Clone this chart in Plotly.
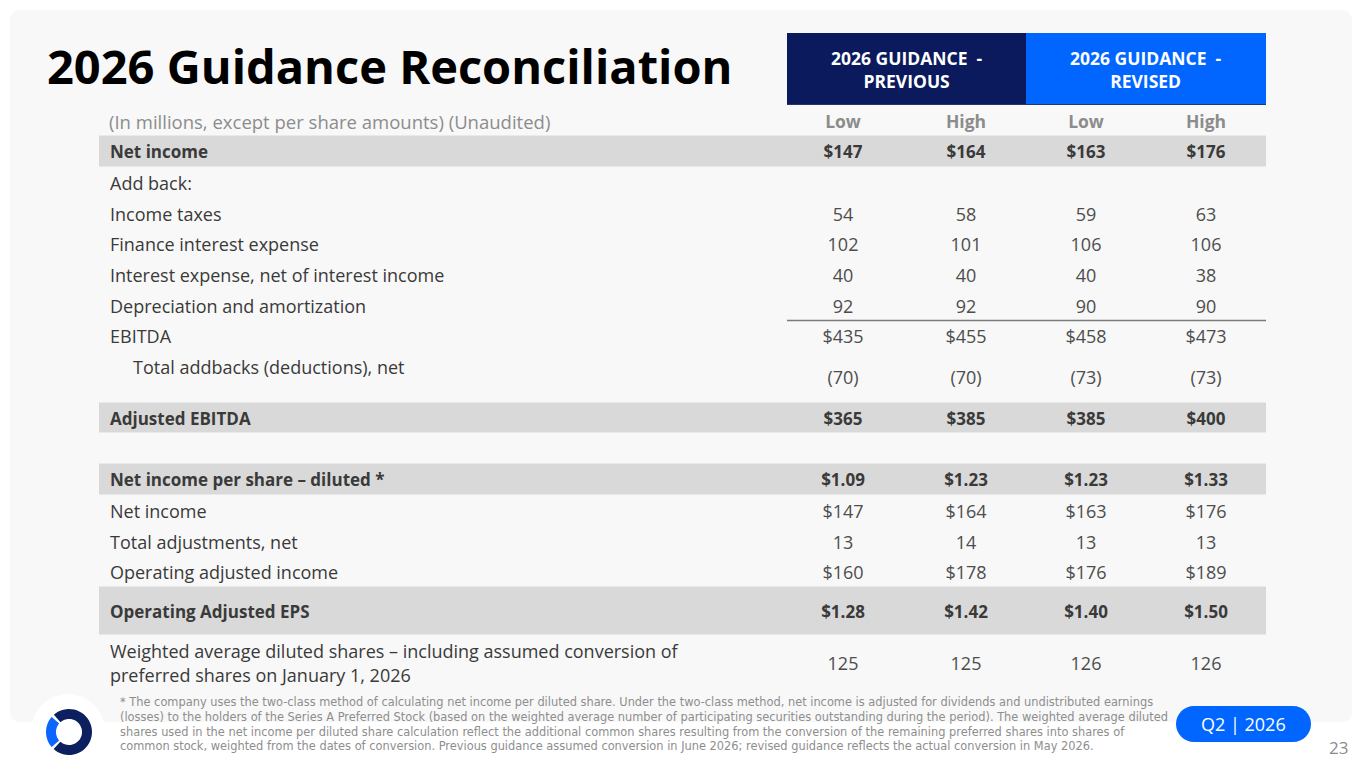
import numpy as np
import plotly.graph_objects as go

# table content
row_labels = [
    "Net income",
    "Add back:",
    "Income taxes",
    "Finance interest expense",
    "Interest expense, net of interest income",
    "Depreciation and amortization",
    "EBITDA",
    "Total addbacks (deductions), net",
    "Adjusted EBITDA",
    "",
    "Net income per share – diluted *",
    "Net income",
    "Total adjustments, net",
    "Operating adjusted income",
    "Operating Adjusted EPS",
    "Weighted average diluted shares – including assumed conversion of<br>preferred shares on January 1, 2026",
]
prev_low = [147, None, 54, 102, 40, 92, 435, -70, 365, None, 1.09, 147, 13, 160, 1.28, 125]
prev_high = [164, None, 58, 101, 40, 92, 455, -70, 385, None, 1.23, 164, 14, 178, 1.42, 125]
rev_low = [163, None, 59, 106, 40, 90, 458, -73, 385, None, 1.23, 163, 13, 176, 1.40, 126]
rev_high = [176, None, 63, 106, 38, 90, 473, -73, 400, None, 1.33, 176, 13, 189, 1.50, 126]
sub_headers = ["Low", "High", "Low", "High"]
group_headers = ["2026 GUIDANCE  -<br>PREVIOUS", "2026 GUIDANCE  -<br>REVISED"]
dollar_rows = [0, 6, 8, 10, 11, 13, 14]
bold_rows = [0, 8, 10, 14]
indent_rows = [7]

title = "2026 Guidance Reconciliation"
unit_note = "(In millions, except per share amounts) (Unaudited)"
footnote_lines = [
    "* The company uses the two-class method of calculating net income per diluted share. Under the two-class method, net income is adjusted for dividends and undistributed earnings",
    "(losses) to the holders of the Series A Preferred Stock (based on the weighted average number of participating securities outstanding during the period). The weighted average diluted",
    "shares used in the net income per diluted share calculation reflect the additional common shares resulting from the conversion of the remaining preferred shares into shares of",
    "common stock, weighted from the dates of conversion. Previous guidance assumed conversion in June 2026; revised guidance reflects the actual conversion in May 2026.",
]
badge = "Q2 | 2026"
page_no = "23"

# layout geometry (page pixels; the html body adds an 8px margin, so ranges are shifted)
FONT = "Open Sans"
NAVY = "#0b1a5c"
BLUE = "#0066ff"
OFF = 8
TXT_DY = 3  # scatter text sits a bit high of its anchor
col_x = [843, 966, 1086, 1206]
row_h = [31, 31, 31, 30, 31, 31, 30, 52, 30, 31, 31, 31, 31, 30, 48, 56]
table_top = 135.5
band_x0, band_x1 = 99, 1266
label_x = 110

tops = table_top + np.concatenate([[0], np.cumsum(row_h)[:-1]])
mids = tops + np.array(row_h) / 2


def fmt(v, i):
    if v is None:
        return ""
    s = f"{abs(v):.2f}" if isinstance(v, float) else f"{abs(v):,}"
    if i in dollar_rows:
        s = "$" + s
    if v < 0:
        s = "(" + s + ")"
    if i in bold_rows:
        s = "<b>" + s + "</b>"
    return s


def rrect(x0, y0, x1, y1, r):
    k = 0.5523 * r
    return (f"M {x0+r},{y0} L {x1-r},{y0} C {x1-r+k},{y0} {x1},{y0+r-k} {x1},{y0+r} "
            f"L {x1},{y1-r} C {x1},{y1-r+k} {x1-r+k},{y1} {x1-r},{y1} "
            f"L {x0+r},{y1} C {x0+r-k},{y1} {x0},{y1-r+k} {x0},{y1-r} "
            f"L {x0},{y0+r} C {x0},{y0+r-k} {x0+r-k},{y0} {x0+r},{y0} Z")


def arc(cx, cy, r0, r1, a0, a1):
    t = np.radians(np.linspace(a0, a1, 40))
    outer = [(cx + r1 * np.cos(a), cy - r1 * np.sin(a)) for a in t]
    inner = [(cx + r0 * np.cos(a), cy - r0 * np.sin(a)) for a in t[::-1]]
    pts = outer + inner
    return "M " + " L ".join(f"{x:.2f},{y:.2f}" for x, y in pts) + " Z"


fig = go.Figure()
shapes = []

# slide card
shapes.append(dict(type="path", path=rrect(10, 10, 1352, 722, 10), fillcolor="#f8f8f8", line_width=0, layer="below"))

# grey bands
for i in bold_rows:
    shapes.append(dict(type="rect", x0=band_x0, x1=band_x1, y0=tops[i], y1=tops[i] + row_h[i],
                       fillcolor="#d9d9d9", line_width=0, layer="below"))

# group header boxes
shapes.append(dict(type="rect", x0=787, x1=1026, y0=33, y1=104, fillcolor=NAVY, line_width=0))
shapes.append(dict(type="rect", x0=1026, x1=1266, y0=33, y1=104, fillcolor=BLUE, line_width=0))
shapes.append(dict(type="line", x0=787, x1=1266, y0=104.5, y1=104.5, line=dict(color="#2a3466", width=1)))
# subtotal rule above EBITDA
shapes.append(dict(type="line", x0=787, x1=1266, y0=tops[6], y1=tops[6], line=dict(color="#7a7a7a", width=1.5)))

# badge and logo
shapes.append(dict(type="path", path=rrect(1176, 706, 1311, 742, 18), fillcolor=BLUE, line_width=0))
shapes.append(dict(type="circle", x0=31, x1=105, y0=694, y1=768, fillcolor="white", line_width=0))
shapes.append(dict(type="path", path=arc(69, 732, 13, 23, 139, 221), fillcolor="#0a66ff", line_width=0))
shapes.append(dict(type="path", path=arc(69, 732, 13, 23, -132, 131), fillcolor="#0c1f5f", line_width=0))

# row labels
lab_y = mids.copy() + TXT_DY
for i in indent_rows:
    lab_y[i] = tops[i] + 16 + TXT_DY
lab_text = [("<b>" + t + "</b>") if i in bold_rows else t for i, t in enumerate(row_labels)]
lab_x = [label_x + (23 if i in indent_rows else 0) for i in range(len(row_labels))]
lab_size = [17 if i in bold_rows else 18 for i in range(len(row_labels))]
fig.add_trace(go.Scatter(x=lab_x, y=lab_y, text=lab_text, mode="text", textposition="middle right",
                         textfont=dict(family=FONT, size=lab_size, color="#3a3a3a"), hoverinfo="skip"))

# value columns
for cx, col in zip(col_x, [prev_low, prev_high, rev_low, rev_high]):
    fig.add_trace(go.Scatter(x=[cx] * len(col), y=mids + TXT_DY, text=[fmt(v, i) for i, v in enumerate(col)],
                             mode="text", textposition="middle center",
                             textfont=dict(family=FONT,
                                           size=[17 if i in bold_rows else 18 for i in range(len(col))],
                                           color=["#3a3a3a" if i in bold_rows else "#4d4d4d" for i in range(len(col))]),
                             hoverinfo="skip"))

# sub headers
fig.add_trace(go.Scatter(x=col_x, y=[121 + TXT_DY] * 4, text=["<b>" + s + "</b>" for s in sub_headers], mode="text",
                         textfont=dict(family=FONT, size=17.5, color="#8c8c8c"), hoverinfo="skip"))

annotations = [
    dict(x=45, y=66, text="<b>" + title + "</b>", xanchor="left", yanchor="middle",
         font=dict(family=FONT, size=47, color="#000000")),
    dict(x=label_x - 3, y=121, text=unit_note, xanchor="left", yanchor="middle",
         font=dict(family=FONT, size=18.5, color="#8c8c8c")),
    dict(x=1243.5, y=724, text=badge, xanchor="center", yanchor="middle",
         font=dict(family=FONT, size=18, color="white")),
    dict(x=1350, y=747, text=page_no, xanchor="right", yanchor="middle",
         font=dict(family=FONT, size=17, color="#8c8c8c")),
    dict(x=118, y=723.5, text="<br>".join(footnote_lines), xanchor="left", yanchor="middle", align="left",
         font=dict(family="DejaVu Sans", size=11.4, color="#8e8e8e")),
]
for gx, g in zip([906.5, 1146], group_headers):
    annotations.append(dict(x=gx, y=69, text="<b>" + g + "</b>", xanchor="center", yanchor="middle",
                            align="center", font=dict(family=FONT, size=17.5, color="white")))
for a in annotations:
    a["showarrow"] = False

fig.update_layout(
    width=1365, height=768, margin=dict(l=0, r=0, t=0, b=0),
    paper_bgcolor="white", plot_bgcolor="white", showlegend=False,
    xaxis=dict(range=[OFF, 1365 + OFF], visible=False, fixedrange=True),
    yaxis=dict(range=[768 + OFF, OFF], visible=False, fixedrange=True),
    shapes=shapes, annotations=annotations,
)

fig.write_html("out.html", config={"displayModeBar": False})
